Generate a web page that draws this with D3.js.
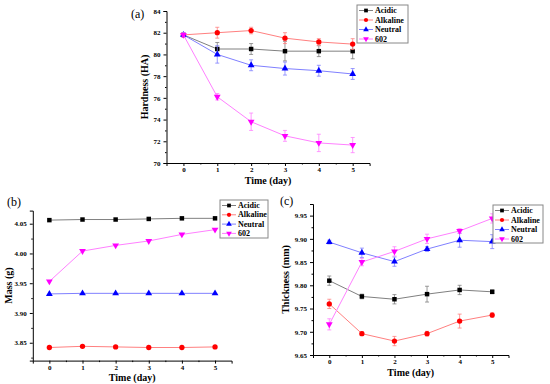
<!DOCTYPE html>
<html>
<head>
<meta charset="utf-8">
<script src="https://cdn.jsdelivr.net/npm/d3@7"></script>
<style>
  body { margin: 0; background: #fff; }
  svg { display: block; font-family: "Liberation Serif", "Times New Roman", serif; }
  .tick text { font-weight: bold; }
</style>
</head>
<body>
<svg id="chart" width="550" height="384"></svg>
<script>
const days = [0, 1, 2, 3, 4, 5];
const seriesNames = ["Acidic", "Alkaline", "Neutral", "602"];

// (a) hardness, HA
const hardAcidic = [81.8, 80.5, 80.5, 80.3, 80.3, 80.3];
const hardAlkaline = [81.8, 82.0, 82.2, 81.5, 81.15, 80.95];
const hardNeutral = [81.8, 80.0, 79.0, 78.7, 78.5, 78.2];
const hard602 = [81.8, 76.1, 73.8, 72.5, 71.85, 71.65];
const hardErrAcidic = [0.1, 0.6, 0.5, 0.9, 0.5, 0.7];
const hardErrAlkaline = [0.1, 0.5, 0.3, 0.5, 0.3, 0.5];
const hardErrNeutral = [0.1, 0.8, 0.5, 0.6, 0.5, 0.5];
const hardErr602 = [0.2, 0.3, 0.8, 0.5, 0.8, 0.7];
const hardTicks = [70, 72, 74, 76, 78, 80, 82, 84];

// (b) mass, g
const massAcidic = [4.056, 4.057, 4.057, 4.058, 4.059, 4.059];
const massAlkaline = [3.842, 3.844, 3.843, 3.842, 3.842, 3.843];
const massNeutral = [3.932, 3.933, 3.933, 3.933, 3.933, 3.933];
const mass602 = [3.953, 4.004, 4.0135, 4.021, 4.032, 4.040];
const massTicks = [3.85, 3.90, 3.95, 4.00, 4.05];

// (c) thickness, mm
const thickAcidic = [9.810, 9.776, 9.770, 9.781, 9.790, 9.786];
const thickAlkaline = [9.760, 9.696, 9.680, 9.696, 9.723, 9.736];
const thickNeutral = [9.893, 9.870, 9.851, 9.878, 9.897, 9.894];
const thick602 = [9.716, 9.850, 9.873, 9.900, 9.917, 9.944];
const thickErrAcidic = [0.010, 0.005, 0.010, 0.017, 0.010, 0.004];
const thickErrAlkaline = [0.010, 0.004, 0.010, 0.005, 0.015, 0.005];
const thickErrNeutral = [0.004, 0.010, 0.010, 0.005, 0.015, 0.015];
const thickErr602 = [0.012, 0.008, 0.010, 0.010, 0.005, 0.010];
const thickTicks = [9.65, 9.70, 9.75, 9.80, 9.85, 9.90, 9.95];

const markerColors = ["#000000", "#ff0000", "#0000ff", "#ff00ff"];
const lineColors = ["#808080", "#ff8080", "#8080ff", "#ff80ff"];
const symbols = [d3.symbolSquare, d3.symbolCircle, d3.symbolTriangle, d3.symbolTriangle];

const svg = d3.select("#chart");

function panel(cfg) {
  const g = svg.append("g");
  const x = d3.scaleLinear().domain([-0.5, 5.5]).range(cfg.xr);
  const y = d3.scaleLinear().domain(cfg.yd).range(cfg.yr);

  // axes
  g.append("g")
    .attr("transform", `translate(0,${cfg.yr[0]})`)
    .call(d3.axisBottom(x).tickValues(days).tickSize(3).tickPadding(1.5).tickFormat(d3.format("d")));
  g.append("g")
    .attr("transform", `translate(0,${cfg.yr[0]})`)
    .call(d3.axisBottom(x).tickValues(days.map(d => d + 0.5).filter(d => d < 5.5)).tickSize(1.5).tickFormat(""))
    .select(".domain").remove();
  g.append("g")
    .attr("transform", `translate(${cfg.xr[0]},0)`)
    .call(d3.axisLeft(y).tickValues(cfg.ticks).tickSize(3).tickPadding(3).tickFormat(cfg.fmt));
  g.append("g")
    .attr("transform", `translate(${cfg.xr[0]},0)`)
    .call(d3.axisLeft(y).tickValues(cfg.minor).tickSize(1.5).tickFormat(""))
    .select(".domain").remove();
  g.selectAll("g").attr("font-family", null);
  g.selectAll(".domain").attr("stroke-width", 1);
  g.selectAll(".tick text").attr("font-size", 7).attr("fill", "#000");

  // titles
  g.append("text")
    .attr("x", (cfg.xr[0] + cfg.xr[1]) / 2).attr("y", cfg.yr[0] + 20.5)
    .attr("text-anchor", "middle").attr("font-size", 10).attr("font-weight", "bold")
    .text("Time (day)");
  g.append("text")
    .attr("transform", `translate(${cfg.ytx},${(cfg.yr[0] + cfg.yr[1]) / 2}) rotate(-90)`)
    .attr("text-anchor", "middle").attr("font-size", 10).attr("font-weight", "bold")
    .text(cfg.ytitle);
  g.append("text")
    .attr("x", cfg.label[0]).attr("y", cfg.label[1])
    .attr("font-size", 12).text(cfg.name);

  // series
  cfg.series.forEach((vals, i) => {
    const err = cfg.errs ? cfg.errs[i] : null;
    if (err) {
      const eb = g.append("g").attr("stroke", lineColors[i]).attr("stroke-width", 0.8);
      days.forEach((d, k) => {
        eb.append("line").attr("x1", x(d)).attr("x2", x(d))
          .attr("y1", y(vals[k] - err[k])).attr("y2", y(vals[k] + err[k]));
        [vals[k] - err[k], vals[k] + err[k]].forEach(v => {
          eb.append("line").attr("x1", x(d) - 2).attr("x2", x(d) + 2)
            .attr("y1", y(v)).attr("y2", y(v));
        });
      });
    }
    g.append("path")
      .datum(vals)
      .attr("fill", "none")
      .attr("stroke", lineColors[i])
      .attr("stroke-width", 1)
      .attr("d", d3.line().x((v, k) => x(days[k])).y(v => y(v)));
    g.selectAll(null)
      .data(vals)
      .enter()
      .append("path")
      .attr("d", d3.symbol().type(symbols[i]).size(i == 1 ? 22 : 20))
      .attr("transform", (v, k) => `translate(${x(days[k])},${y(v)})${i == 3 ? " rotate(180)" : ""}`)
      .attr("fill", markerColors[i]);
  });

  // legend
  const [lx, ly, lw, lh, step] = cfg.legend;
  const lg = g.append("g").attr("transform", `translate(${lx},${ly})`);
  lg.append("rect").attr("width", lw).attr("height", lh)
    .attr("fill", "#fff").attr("stroke", "#888").attr("stroke-width", 1);
  seriesNames.forEach((n, i) => {
    const cy = 5.5 + i * step;
    lg.append("line").attr("x1", 2).attr("x2", 16).attr("y1", cy).attr("y2", cy)
      .attr("stroke", lineColors[i]).attr("stroke-width", 1);
    lg.append("path")
      .attr("d", d3.symbol().type(symbols[i]).size(14))
      .attr("transform", `translate(9,${cy})${i == 3 ? " rotate(180)" : ""}`)
      .attr("fill", markerColors[i]);
    lg.append("text").attr("x", 18).attr("y", cy + 2.5)
      .attr("font-size", 8).attr("font-weight", "bold").text(n);
  });
}

panel({
  name: "(a)", label: [131, 18],
  xr: [166.5, 369.6], yd: [70, 84], yr: [163, 11],
  ticks: hardTicks, minor: [71, 73, 75, 77, 79, 81, 83], fmt: d3.format("d"),
  ytitle: "Hardness (HA)", ytx: 148,
  series: [hardAcidic, hardAlkaline, hardNeutral, hard602],
  errs: [hardErrAcidic, hardErrAlkaline, hardErrNeutral, hardErr602],
  legend: [357, 5, 51, 38, 9.5]
});

panel({
  name: "(b)", label: [7, 206],
  xr: [32.8, 231.6], yd: [3.82, 4.072], yr: [360.6, 210.6],
  ticks: massTicks, minor: [3.825, 3.875, 3.925, 3.975, 4.025], fmt: d3.format(".2f"),
  ytitle: "Mass (g)", ytx: 12,
  series: [massAcidic, massAlkaline, massNeutral, mass602],
  errs: null,
  legend: [220, 200, 48, 38, 9.3]
});

panel({
  name: "(c)", label: [280, 205],
  xr: [313, 508.5], yd: [9.65, 9.975], yr: [355, 204],
  ticks: thickTicks, minor: [9.675, 9.725, 9.775, 9.825, 9.875, 9.925], fmt: d3.format(".2f"),
  ytitle: "Thickness (mm)", ytx: 289,
  series: [thickAcidic, thickAlkaline, thickNeutral, thick602],
  errs: [thickErrAcidic, thickErrAlkaline, thickErrNeutral, thickErr602],
  legend: [493, 205, 50, 38, 9.5]
});
</script>
</body>
</html>
